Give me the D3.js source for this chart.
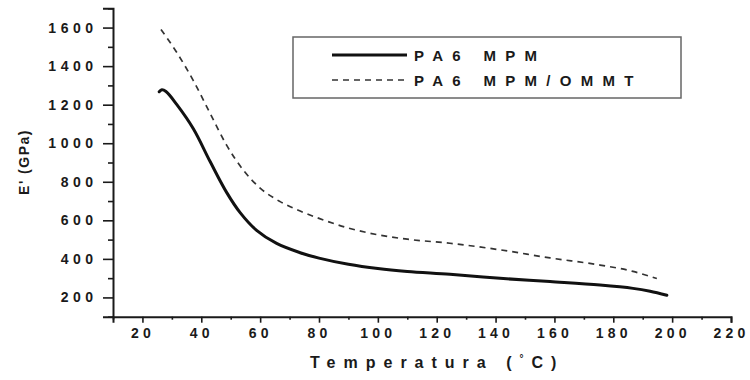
<!DOCTYPE html>
<html><head><meta charset="utf-8">
<script src="https://cdn.jsdelivr.net/npm/d3@7"></script>
<style>
html,body{margin:0;padding:0;background:#fff;}
svg{display:block;}
text{font-family:"Liberation Sans",Arial,sans-serif;font-weight:bold;fill:#1a1a1a;}
</style></head><body>
<svg id="chart" width="750" height="380"></svg>
<script>
// Data
const seriesNames = ["PA6 MPM", "PA6 MPM/OMMT"];
const tempPA6 = [25.7, 26.6, 28, 31.7, 37.3, 43, 48.6, 53.2, 58.8, 65.6, 73.6, 80, 90, 100, 110, 124.5, 141.5, 158.5, 175.5, 186.7, 192.5, 198.2];
const modPA6  = [1267, 1277, 1268, 1200, 1075, 905, 745, 640, 548, 480, 432, 404, 372, 350, 335, 320, 299, 282, 264, 247, 232, 211];
const tempOMMT = [26.3, 31.7, 37.3, 43, 48.6, 54.3, 60, 66.8, 73.6, 80, 90, 100, 110, 124.5, 141.5, 158.5, 175.5, 186.7, 194.8];
const modOMMT  = [1590, 1470, 1325, 1155, 990, 860, 767, 697, 648, 610, 560, 525, 502, 481, 447, 405, 368, 335, 298];
const xMajorTicks = [20, 40, 60, 80, 100, 120, 140, 160, 180, 200, 220];
const xMinorTicks = [10, 30, 50, 70, 90, 110, 130, 150, 170, 190, 210];
const yMajorTicks = [200, 400, 600, 800, 1000, 1200, 1400, 1600];
const yMinorTicks = [100, 300, 500, 700, 900, 1100, 1300, 1500, 1700];
const xTitle = ["Temperatura (", "°", "C)"];
const yTitle = "E' (GPa)";

const svg = d3.select("#chart");
const x = d3.scaleLinear().domain([10, 220]).range([113, 731]);
const y = d3.scaleLinear().domain([100, 1700]).range([316.7, 8.3]);
const ink = "#1a1a1a";

// Axes: minor ticks
const gxMin = svg.append("g").attr("transform", `translate(0,${y(100)})`)
  .call(d3.axisBottom(x).tickValues(xMinorTicks).tickSize(3).tickFormat(""));
const gyMin = svg.append("g").attr("transform", `translate(${x(10)},0)`)
  .call(d3.axisLeft(y).tickValues(yMinorTicks).tickSize(5).tickFormat(""));
// Major
const gx = svg.append("g").attr("transform", `translate(0,${y(100)})`)
  .call(d3.axisBottom(x).tickValues(xMajorTicks).tickSize(6).tickPadding(5).tickFormat(d3.format("d")));
const gy = svg.append("g").attr("transform", `translate(${x(10)},0)`)
  .call(d3.axisLeft(y).tickValues(yMajorTicks).tickSize(10).tickPadding(10).tickFormat(d3.format("d")));

[gx, gy, gxMin, gyMin].forEach(g => {
  g.selectAll(".domain").attr("stroke", ink).attr("stroke-width", 2);
  g.selectAll(".tick line").attr("stroke", ink).attr("stroke-width", 1.6);
});
gx.selectAll(".tick text").attr("font-size", 14).attr("letter-spacing", "4.2px")
  .attr("dx", "0px").attr("fill", ink).attr("font-family", "Liberation Sans").attr("font-weight", "bold");
gy.selectAll(".tick text").attr("font-size", 14).attr("letter-spacing", "4.5px")
  .attr("dx", "4.5px").attr("fill", ink).attr("font-family", "Liberation Sans").attr("font-weight", "bold");
gxMin.select(".domain").remove();
gyMin.select(".domain").remove();

// Lines
const line = d3.line().x(d => x(d[0])).y(d => y(d[1])).curve(d3.curveMonotoneX);
svg.append("path").datum(tempOMMT.map((t, i) => [t, modOMMT[i]]))
  .attr("d", line).attr("fill", "none").attr("stroke", "#333")
  .attr("stroke-width", 1.7).attr("stroke-dasharray", "6,5");
svg.append("path").datum(tempPA6.map((t, i) => [t, modPA6[i]]))
  .attr("d", d3.line().x(d => x(d[0])).y(d => y(d[1])).curve(d3.curveCatmullRom.alpha(0.5)))
  .attr("fill", "none").attr("stroke", "#111")
  .attr("stroke-width", 3).attr("stroke-linecap", "round");

// Legend
const lg = svg.append("g");
lg.append("rect").attr("x", 293).attr("y", 37).attr("width", 388).attr("height", 61)
  .attr("fill", "#fff").attr("stroke", "#666").attr("stroke-width", 1.5);
const styles = [{w: 3, dash: null, c: "#111"}, {w: 1.7, dash: "6,5", c: "#333"}];
seriesNames.forEach((name, i) => {
  const yy = 55 + i * 25;
  lg.append("line").attr("x1", 332).attr("x2", 407).attr("y1", yy).attr("y2", yy)
    .attr("stroke", styles[i].c).attr("stroke-width", styles[i].w)
    .attr("stroke-dasharray", styles[i].dash);
  lg.append("text").attr("x", 414).attr("y", yy + 5.5).attr("font-size", 15)
    .attr("letter-spacing", "9.3px").text(name);
});

// Axis titles
const xt = svg.append("text").attr("x", 310).attr("y", 368).attr("font-size", 16)
  .attr("letter-spacing", "8px");
xt.append("tspan").text(xTitle[0]);
xt.append("tspan").attr("font-size", 10).attr("dy", -6).text(xTitle[1]);
xt.append("tspan").attr("dy", 6).text(xTitle[2]);

svg.append("text").attr("transform", "translate(29,162) rotate(-90)")
  .attr("text-anchor", "middle").attr("font-size", 14).attr("letter-spacing", "1.5px").text(yTitle);
</script>
</body></html>
